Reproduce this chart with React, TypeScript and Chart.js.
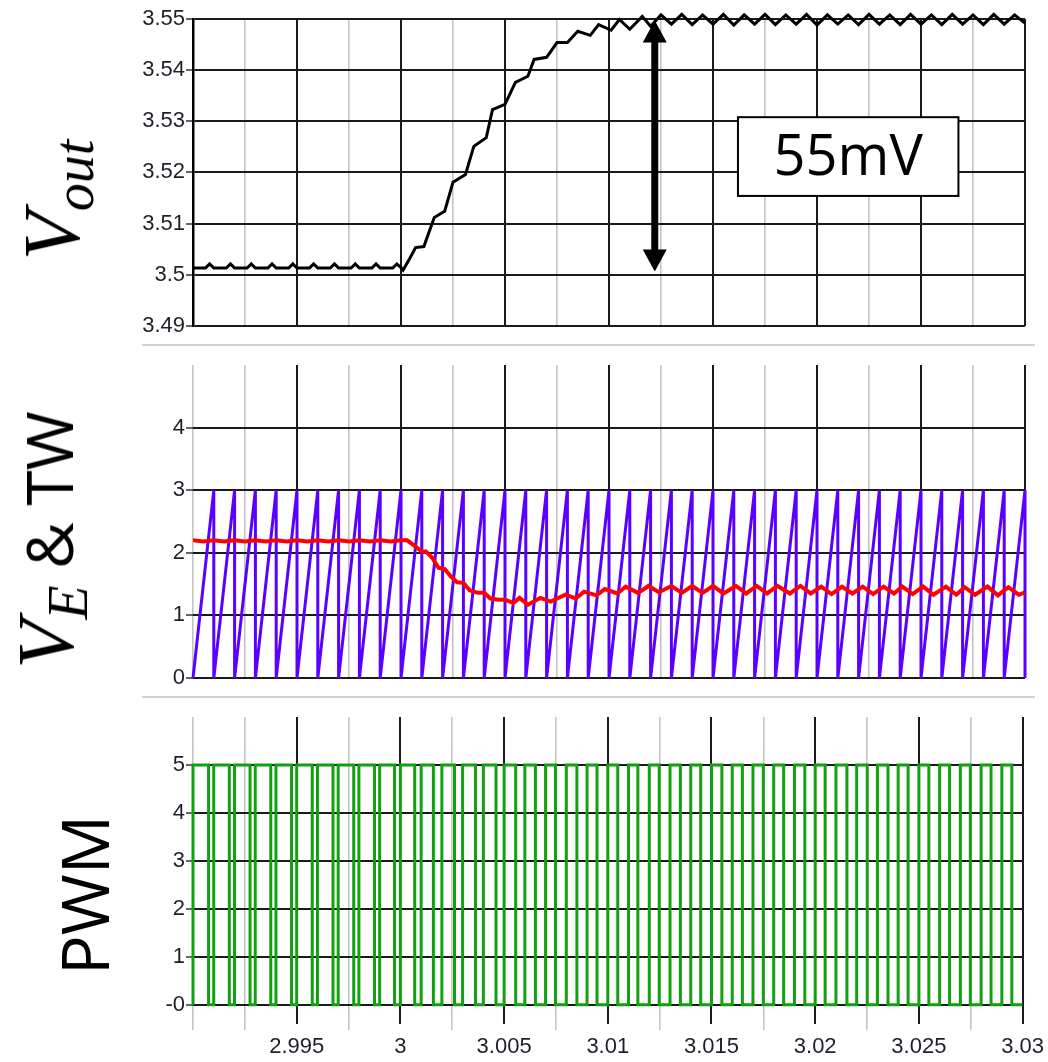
import React, { useEffect, useRef } from 'react';
import { Chart, registerables } from 'chart.js';
Chart.register(...registerables);

// ---------- shared time axis ----------
const xMin = 2.99;
const xMax = 3.03;
const xTickValues = [2.99, 2.9925, 2.995, 2.9975, 3.0, 3.0025, 3.005, 3.0075, 3.01, 3.0125, 3.015, 3.0175, 3.02, 3.0225, 3.025, 3.0275, 3.03];
const xTickLabels = ['', '', '2.995', '', '3', '', '3.005', '', '3.01', '', '3.015', '', '3.02', '', '3.025', '', '3.03'];

// ---------- Vout panel ----------
const voutTicks = [3.49, 3.5, 3.51, 3.52, 3.53, 3.54, 3.55];
const voutTickLabels = ['3.49', '3.5', '3.51', '3.52', '3.53', '3.54', '3.55'];
const voutTime = [
  2.9900, 2.9906, 2.9908, 2.9910, 2.9916, 2.9918, 2.9920, 2.9926, 2.9928, 2.9930,
  2.9936, 2.9938, 2.9940, 2.9946, 2.9948, 2.9950, 2.9956, 2.9958, 2.9960, 2.9966,
  2.9968, 2.9970, 2.9976, 2.9978, 2.9980, 2.9986, 2.9988, 2.9990, 2.9996, 2.9998,
  3.0000,
  3.0001, 3.0004, 3.0007, 3.0011, 3.0016, 3.0021, 3.0025, 3.0031, 3.0035, 3.0041,
  3.0044, 3.0050, 3.0055, 3.0061, 3.0064, 3.0070, 3.0075, 3.0080, 3.0085, 3.0091,
  3.0095, 3.0101, 3.0105, 3.0110, 3.0116,
  3.0120, 3.0125, 3.0130, 3.0135, 3.0140, 3.0145, 3.0150, 3.0155, 3.0160, 3.0165,
  3.0170, 3.0175, 3.0180, 3.0185, 3.0190, 3.0195, 3.0200, 3.0205, 3.0210, 3.0215,
  3.0220, 3.0225, 3.0230, 3.0235, 3.0240, 3.0245, 3.0250, 3.0255, 3.0260, 3.0265,
  3.0270, 3.0275, 3.0280, 3.0285, 3.0290, 3.0295, 3.0300,
];
const voutValue = [
  3.5013, 3.5013, 3.5021, 3.5013, 3.5013, 3.5021, 3.5013, 3.5013, 3.5021, 3.5013,
  3.5013, 3.5021, 3.5013, 3.5013, 3.5021, 3.5013, 3.5013, 3.5021, 3.5013, 3.5013,
  3.5021, 3.5013, 3.5013, 3.5021, 3.5013, 3.5013, 3.5021, 3.5013, 3.5013, 3.5021,
  3.5014,
  3.5009, 3.5030, 3.5053, 3.5055, 3.5112, 3.5124, 3.5181, 3.5196, 3.5251, 3.5268,
  3.5323, 3.5333, 3.5376, 3.5388, 3.5421, 3.5425, 3.5454, 3.5454, 3.5476, 3.5468,
  3.5489, 3.5478, 3.5499, 3.5480, 3.5505,
  3.5486, 3.5508, 3.5490, 3.5509, 3.5489, 3.5508, 3.5490, 3.5509, 3.5488, 3.5508,
  3.5490, 3.5509, 3.5489, 3.5508, 3.5490, 3.5509, 3.5488, 3.5508, 3.5490, 3.5508,
  3.5489, 3.5509, 3.5490, 3.5508, 3.5489, 3.5509, 3.5490, 3.5508, 3.5489, 3.5509,
  3.5490, 3.5508, 3.5489, 3.5509, 3.5490, 3.5508, 3.5492,
];
// 55mV annotation (data units)
const arrowTime = 3.0122;
const arrowTop = 3.5497;
const arrowBottom = 3.5006;
const boxTimeStart = 3.0162;
const boxTimeEnd = 3.0268;
const boxTop = 3.5308;
const boxBottom = 3.5154;
const annotationText = '55mV';

// ---------- VE & TW panel ----------
const veTwTicks = [0, 1, 2, 3, 4];
const veTwTickLabels = ['0', '1', '2', '3', '4'];
const cycleStarts = [
  2.990, 2.991, 2.992, 2.993, 2.994, 2.995, 2.996, 2.997, 2.998, 2.999,
  3.000, 3.001, 3.002, 3.003, 3.004, 3.005, 3.006, 3.007, 3.008, 3.009,
  3.010, 3.011, 3.012, 3.013, 3.014, 3.015, 3.016, 3.017, 3.018, 3.019,
  3.020, 3.021, 3.022, 3.023, 3.024, 3.025, 3.026, 3.027, 3.028, 3.029,
];
const twLow = 0;
const twHigh = 3;
const veTime = [
  2.9900, 2.9905, 2.9910, 2.9915, 2.9920, 2.9925, 2.9930, 2.9935, 2.9940, 2.9945,
  2.9950, 2.9955, 2.9960, 2.9965, 2.9970, 2.9975, 2.9980, 2.9985, 2.9990, 2.9995,
  3.0000,
  3.0003, 3.0007, 3.0010, 3.0012, 3.0015, 3.0018, 3.0021, 3.0024, 3.0027, 3.0030,
  3.0033, 3.0037, 3.0040, 3.0043, 3.0047, 3.0050, 3.0054, 3.0057, 3.0061, 3.0067,
  3.0072, 3.0079, 3.0084, 3.0088, 3.0094, 3.0098, 3.0104, 3.0108, 3.0114, 3.0119,
  3.0124, 3.0130, 3.0135, 3.0140, 3.0145, 3.0150, 3.0155, 3.0161, 3.0166, 3.0171,
  3.0176, 3.0181, 3.0187, 3.0192, 3.0197, 3.0202, 3.0207, 3.0212, 3.0217, 3.0222,
  3.0227, 3.0232, 3.0237, 3.0241, 3.0246, 3.0251, 3.0256, 3.0262, 3.0267, 3.0271,
  3.0276, 3.0282, 3.0287, 3.0292, 3.0297, 3.0300,
];
const veValue = [
  2.20, 2.18, 2.20, 2.18, 2.20, 2.18, 2.20, 2.18, 2.20, 2.18,
  2.20, 2.18, 2.20, 2.18, 2.20, 2.18, 2.20, 2.18, 2.20, 2.18,
  2.20,
  2.20, 2.10, 2.02, 2.02, 1.92, 1.76, 1.74, 1.62, 1.53, 1.52,
  1.40, 1.36, 1.36, 1.27, 1.25, 1.25, 1.20, 1.28, 1.17, 1.28,
  1.22, 1.33, 1.27, 1.38, 1.32, 1.42, 1.35, 1.46, 1.36, 1.47,
  1.37, 1.47, 1.36, 1.47, 1.36, 1.47, 1.35, 1.47, 1.35, 1.47,
  1.35, 1.47, 1.35, 1.47, 1.35, 1.46, 1.34, 1.46, 1.35, 1.46,
  1.34, 1.46, 1.35, 1.46, 1.34, 1.46, 1.33, 1.46, 1.33, 1.45,
  1.33, 1.46, 1.32, 1.45, 1.33, 1.37,
];

// ---------- PWM panel ----------
const pwmTicks = [0, 1, 2, 3, 4, 5];
const pwmTickLabels = ['-0', '1', '2', '3', '4', '5'];
const pwmLow = 0;
const pwmHigh = 5;
const pwmFallTimes = [
  2.99075, 2.99175, 2.99275, 2.99375, 2.99475, 2.99575, 2.99675, 2.99775, 2.99875, 2.99972,
  3.00069, 3.00159, 3.00261, 3.00362, 3.00461, 3.00556, 3.00651, 3.00748, 3.00851, 3.00948,
  3.01048, 3.01145, 3.01248, 3.01350, 3.01448, 3.01550, 3.01649, 3.01750, 3.01848, 3.01950,
  3.02048, 3.02153, 3.02251, 3.02351, 3.02448, 3.02548, 3.02648, 3.02748, 3.02848, 3.02948,
];

// ---------- styles ----------
const majorGrid = '#1a1a1a';
const minorGrid = '#c4c4c4';
const tickText = '#1f1f2a';
const tickFont = { family: "'Liberation Sans Narrow', 'Arial Narrow', 'Liberation Sans', Arial, sans-serif", size: 22 };

const isMajor = (i: number) => xTickLabels[i] !== undefined && xTickLabels[i] !== '';

function xScale(showLabels: boolean) {
  return {
    type: 'linear',
    min: xMin,
    max: xMax,
    afterBuildTicks: (s: any) => {
      s.ticks = xTickValues.map((v) => ({ value: v }));
    },
    afterFit: (s: any) => {
      s.height = showLabels ? 30 : 0;
    },
    border: { display: false },
    grid: {
      color: (c: any) => (isMajor(c.index) ? majorGrid : minorGrid),
      lineWidth: (c: any) => (isMajor(c.index) ? 2 : 1.6),
      drawTicks: showLabels,
      tickLength: 6,
      tickWidth: 1.6,
      tickColor: (c: any) => (isMajor(c.index) ? 'rgba(0,0,0,0)' : minorGrid),
    },
    ticks: {
      display: showLabels,
      autoSkip: false,
      maxRotation: 0,
      minRotation: 0,
      padding: 4,
      color: tickText,
      font: tickFont,
      callback: (_v: any, i: number) => xTickLabels[i],
    },
  };
}

function yScale(min: number, max: number, vals: number[], labels: string[], border: boolean) {
  return {
    type: 'linear',
    min,
    max,
    afterBuildTicks: (s: any) => {
      s.ticks = vals.map((v) => ({ value: v }));
    },
    afterFit: (s: any) => {
      s.width = 63;
    },
    border: { display: border, color: '#000', width: 2.5 },
    grid: { color: majorGrid, lineWidth: 2, tickLength: 7, tickColor: '#333', tickWidth: 1.5 },
    ticks: {
      autoSkip: false,
      padding: 1,
      color: tickText,
      font: tickFont,
      callback: (_v: any, i: number) => labels[i],
    },
  };
}

const annotationPlugin = {
  id: 'voutAnnotation',
  afterDatasetsDraw(chart: any) {
    const { ctx } = chart;
    const x = chart.scales.x;
    const y = chart.scales.y;
    const ax = x.getPixelForValue(arrowTime);
    const yt = y.getPixelForValue(arrowTop);
    const yb = y.getPixelForValue(arrowBottom);
    const head = 22;
    const hw = 12;
    ctx.save();
    ctx.strokeStyle = '#000';
    ctx.fillStyle = '#000';
    ctx.lineWidth = 7;
    ctx.beginPath();
    ctx.moveTo(ax, yt + head - 2);
    ctx.lineTo(ax, yb - head + 2);
    ctx.stroke();
    ctx.beginPath();
    ctx.moveTo(ax, yt);
    ctx.lineTo(ax - hw, yt + head);
    ctx.lineTo(ax + hw, yt + head);
    ctx.closePath();
    ctx.fill();
    ctx.beginPath();
    ctx.moveTo(ax, yb);
    ctx.lineTo(ax - hw, yb - head);
    ctx.lineTo(ax + hw, yb - head);
    ctx.closePath();
    ctx.fill();

    const bx0 = x.getPixelForValue(boxTimeStart);
    const bx1 = x.getPixelForValue(boxTimeEnd);
    const by0 = y.getPixelForValue(boxTop);
    const by1 = y.getPixelForValue(boxBottom);
    ctx.fillStyle = '#fff';
    ctx.fillRect(bx0, by0, bx1 - bx0, by1 - by0);
    ctx.lineWidth = 2;
    ctx.strokeRect(bx0, by0, bx1 - bx0, by1 - by0);
    ctx.fillStyle = '#000';
    ctx.font = "56px 'Open Sans', 'Noto Sans', sans-serif";
    ctx.textAlign = 'center';
    ctx.textBaseline = 'middle';
    ctx.fillText(annotationText, (bx0 + bx1) / 2, (by0 + by1) / 2 + 2);
    ctx.restore();
  },
};

const baseOptions = (padding: any, scales: any) => ({
  responsive: false,
  maintainAspectRatio: false,
  animation: false,
  devicePixelRatio: 1,
  events: [],
  layout: { padding },
  plugins: { legend: { display: false }, tooltip: { enabled: false } },
  scales,
});

function buildVout() {
  return {
    type: 'line',
    data: {
      datasets: [
        {
          data: voutTime.map((t, i) => ({ x: t, y: voutValue[i] })),
          borderColor: '#000',
          borderWidth: 3,
          pointRadius: 0,
          tension: 0,
          clip: 8,
        },
      ],
    },
    options: baseOptions(
      { left: 130, right: 23, top: 19, bottom: 14 },
      { x: xScale(false), y: yScale(3.49, 3.55, voutTicks, voutTickLabels, true) }
    ),
    plugins: [annotationPlugin],
  };
}

function buildVeTw() {
  const tw: { x: number; y: number }[] = [];
  cycleStarts.forEach((s, i) => {
    const end = i + 1 < cycleStarts.length ? cycleStarts[i + 1] : xMax;
    tw.push({ x: s, y: twLow }, { x: end, y: twHigh }, { x: end, y: twLow });
  });
  return {
    type: 'line',
    data: {
      datasets: [
        {
          data: veTime.map((t, i) => ({ x: t, y: veValue[i] })),
          borderColor: '#ff0000',
          borderWidth: 4,
          pointRadius: 0,
          tension: 0,
          order: 0,
        },
        {
          data: tw,
          borderColor: '#5a00ff',
          borderWidth: 3,
          pointRadius: 0,
          tension: 0,
          order: 1,
          clip: 4,
        },
      ],
    },
    options: baseOptions(
      { left: 130, right: 23, top: 25, bottom: 19 },
      { x: xScale(false), y: yScale(0, 5, veTwTicks, veTwTickLabels, false) }
    ),
  };
}

function buildPwm() {
  const pts: { x: number; y: number }[] = [];
  cycleStarts.forEach((s, i) => {
    pts.push({ x: s, y: pwmLow }, { x: s, y: pwmHigh }, { x: pwmFallTimes[i], y: pwmHigh }, { x: pwmFallTimes[i], y: pwmLow });
  });
  pts.push({ x: xMax, y: pwmLow });
  return {
    type: 'line',
    data: {
      datasets: [
        {
          data: pts,
          borderColor: '#10a010',
          borderWidth: 3,
          pointRadius: 0,
          tension: 0,
          clip: 4,
        },
      ],
    },
    options: baseOptions(
      { left: 130, right: 23, top: 20, bottom: 8 },
      { x: xScale(true), y: yScale(-0.4, 6, pwmTicks, pwmTickLabels, false) }
    ),
  };
}

function ChartCanvas({ top, height, build }: { top: number; height: number; build: () => any }) {
  const ref = useRef<HTMLCanvasElement>(null);
  useEffect(() => {
    const chart = new Chart(ref.current as HTMLCanvasElement, build() as any);
    return () => chart.destroy();
  }, []);
  return (
    <canvas
      ref={ref}
      width={1048}
      height={height}
      style={{ position: 'absolute', left: 0, top, width: 1048, height, display: 'block' }}
    />
  );
}

const serifItalic: React.CSSProperties = { fontFamily: "'Liberation Serif', 'DejaVu Serif', serif", fontStyle: 'italic' };
const sans: React.CSSProperties = { fontFamily: "'Open Sans', 'Noto Sans', sans-serif" };

function SideLabel({ cx, cy, children }: { cx: number; cy: number; children: React.ReactNode }) {
  return (
    <div
      style={{
        position: 'absolute',
        left: cx,
        top: cy,
        transform: 'translate(-50%, -50%) rotate(-90deg)',
        whiteSpace: 'nowrap',
        lineHeight: 1,
        color: '#000',
      }}
    >
      {children}
    </div>
  );
}

export default function App() {
  return (
    <div style={{ position: 'absolute', left: 0, top: 0, width: 1048, height: 1062, background: '#fff', overflow: 'hidden' }}>
      <ChartCanvas top={0} height={340} build={buildVout} />
      <ChartCanvas top={340} height={357} build={buildVeTw} />
      <ChartCanvas top={697} height={365} build={buildPwm} />
      <div style={{ position: 'absolute', left: 142, top: 344, width: 893, height: 2, background: '#d2d2d2' }} />
      <div style={{ position: 'absolute', left: 142, top: 696, width: 893, height: 2, background: '#d2d2d2' }} />
      <SideLabel cx={52} cy={200}>
        <span style={{ ...serifItalic, fontSize: 80 }}>V</span>
        <span style={{ ...serifItalic, fontSize: 56, position: 'relative', top: 14 }}>out</span>
      </SideLabel>
      <SideLabel cx={46} cy={540}>
        <span style={{ ...serifItalic, fontSize: 80 }}>V</span>
        <span style={{ ...serifItalic, fontSize: 56, position: 'relative', top: 14 }}>E</span>
        <span style={{ ...sans, fontSize: 64 }}>{'  & TW'}</span>
      </SideLabel>
      <SideLabel cx={83} cy={895}>
        <span style={{ ...sans, fontSize: 66 }}>PWM</span>
      </SideLabel>
    </div>
  );
}
